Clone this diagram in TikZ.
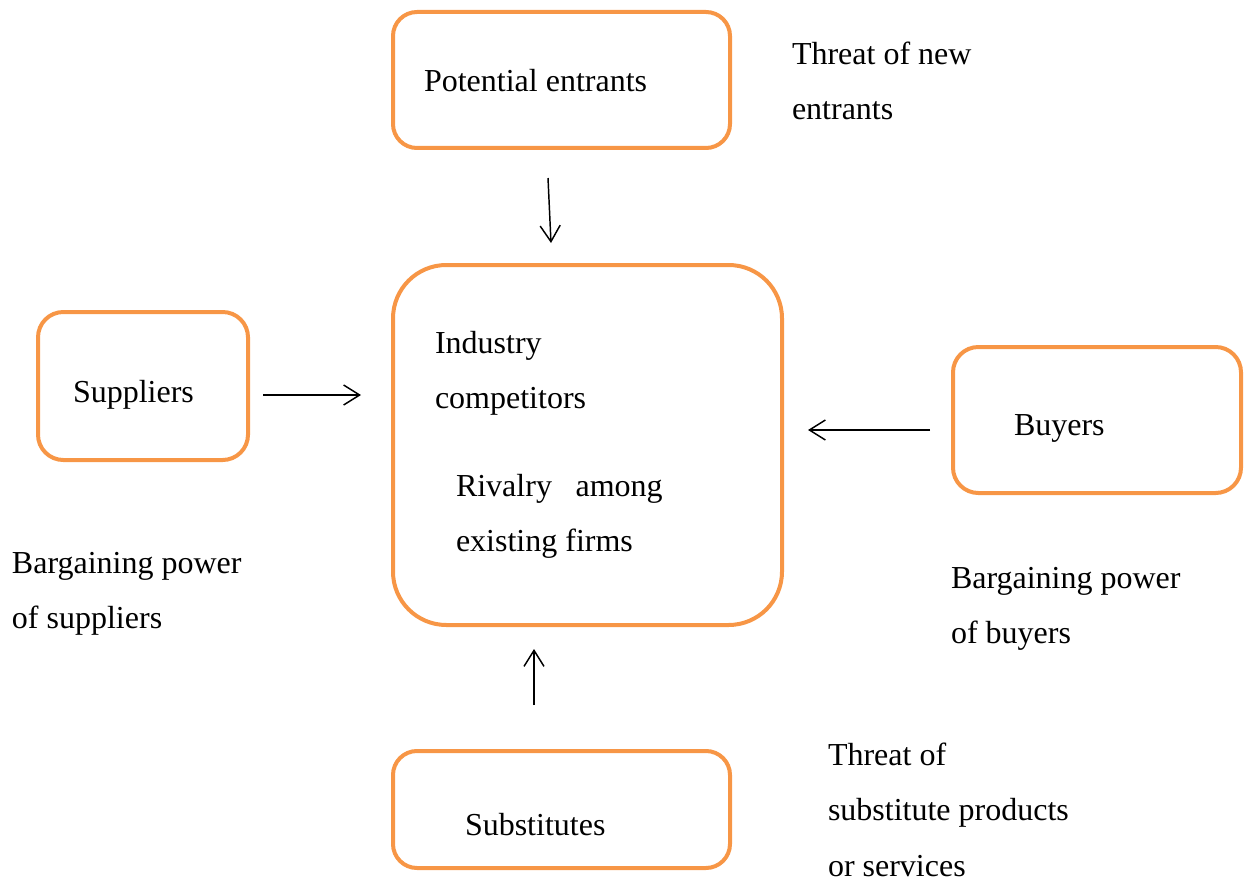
\documentclass[tikz,border=0pt]{standalone}
\usepackage{fontspec}
\setmainfont{Liberation Serif}
\usetikzlibrary{arrows.meta}
\definecolor{boxorange}{HTML}{F79646}
\begin{document}
\begin{tikzpicture}[x=0.75pt,y=-0.75pt,
  forcebox/.style={draw=boxorange,line width=3pt,rounded corners=#1,inner sep=0pt,outer sep=0pt},
  forcebox/.default=18pt,
  txt/.style={anchor=base west,inner sep=0pt,outer sep=0pt,font=\fontsize{24}{29}\selectfont},
  force/.style={line width=1.1pt,-{Straight Barb[length=12pt,width=15pt,line width=1.1pt]}}]
\useasboundingbox (0,0) rectangle (1247,881);

% boxes
\node[forcebox, minimum width=337*0.75pt, minimum height=136*0.75pt] (entrants) at (561.5,80) {};
\node[forcebox=40pt, minimum width=389*0.75pt, minimum height=360*0.75pt] (rivalry) at (587.5,445) {};
\node[forcebox=19pt, minimum width=210*0.75pt, minimum height=148*0.75pt] (suppliers) at (143,386) {};
\node[forcebox=19pt, minimum width=288*0.75pt, minimum height=146*0.75pt] (buyers) at (1097,420) {};
\node[forcebox, minimum width=337*0.75pt, minimum height=117*0.75pt] (substitutes) at (561.5,809.5) {};

% box texts
\node[txt] (tEntrants) at (424,92) {Potential entrants};
\node[txt] (tIndustry) at (435,353) {Industry};
\node[txt] (tCompetitors) at (435,408) {competitors};
\node[txt] (tRivalry) at (456,496) {\makebox[155pt][s]{Rivalry among}};
\node[txt] (tFirms) at (456,551) {existing firms};
\node[txt] (tSuppliers) at (73,402) {Suppliers};
\node[txt] (tBuyers) at (1014,435) {Buyers};
\node[txt] (tSubstitutes) at (465,835) {Substitutes};

% force labels
\node[txt] (lNew1) at (792,65) {Threat of new};
\node[txt] (lNew2) at (792,119) {entrants};
\node[txt] (lSup1) at (12,573) {Bargaining power};
\node[txt] (lSup2) at (12,628) {of suppliers};
\node[txt] (lBuy1) at (951,588) {Bargaining power};
\node[txt] (lBuy2) at (951,643) {of buyers};
\node[txt] (lSub1) at (828,765) {Threat of};
\node[txt] (lSub2) at (828,820) {substitute products};
\node[txt] (lSub3) at (828,876) {or services};

% arrow ends
\coordinate (aEntrants) at (548,178);
\coordinate (aEntrantsEnd) at (551,243);
\coordinate (aSuppliers) at (263,395);
\coordinate (aSuppliersEnd) at (361,395);
\coordinate (aBuyers) at (930,430);
\coordinate (aBuyersEnd) at (808,430);
\coordinate (aSubstitutes) at (534,705);
\coordinate (aSubstitutesEnd) at (534,649);

\draw[force] (aEntrants) -- (aEntrantsEnd);
\draw[force] (aSuppliers) -- (aSuppliersEnd);
\draw[force] (aBuyers) -- (aBuyersEnd);
\draw[force] (aSubstitutes) -- (aSubstitutesEnd);
\end{tikzpicture}
\end{document}
